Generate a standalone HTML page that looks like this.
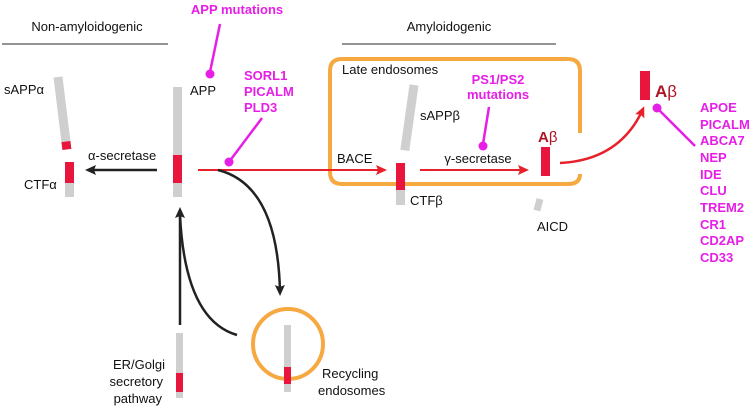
<!DOCTYPE html>
<html><head><meta charset="utf-8"><style>
html,body{margin:0;padding:0;background:#fff;}
svg{display:block;font-family:"Liberation Sans",Arial,sans-serif;}
.m{fill:#e61ee6;font-weight:bold;font-size:13px;}
.k{fill:#111;font-size:13px;}
</style></head><body>
<svg width="755" height="406" viewBox="0 0 755 406" xmlns="http://www.w3.org/2000/svg">
<defs>
<marker id="ab" markerWidth="11" markerHeight="10" refX="8" refY="5" orient="auto" markerUnits="userSpaceOnUse"><path d="M0,0 L11,5 L0,10 L2,5 Z" fill="#222"/></marker>
<marker id="ar" markerWidth="11" markerHeight="10" refX="8" refY="5" orient="auto" markerUnits="userSpaceOnUse"><path d="M0,0 L11,5 L0,10 L2,5 Z" fill="#e8202a"/></marker>
</defs>
<text x="87" y="31" class="k" text-anchor="middle">Non-amyloidogenic</text>
<line x1="2" y1="44" x2="168" y2="44" stroke="#555" stroke-width="1.3"/>
<text x="449" y="31" class="k" text-anchor="middle">Amyloidogenic</text>
<line x1="342" y1="44" x2="556" y2="44" stroke="#555" stroke-width="1.3"/>
<text x="237" y="14" class="m" text-anchor="middle">APP mutations</text>
<line x1="220" y1="24" x2="210" y2="72" stroke="#e61ee6" stroke-width="2.5"/>
<circle cx="210" cy="74" r="4.5" fill="#e61ee6"/>
<text x="190" y="95" class="k" font-size="12">APP</text>
<rect x="173" y="87" width="9" height="110" fill="#cfcfcf"/>
<rect x="173" y="155" width="9" height="28" fill="#e8163c"/>
<text x="4" y="94" class="k">sAPPα</text>
<g transform="translate(58,77) rotate(-7)"><rect x="-4.5" y="0" width="9" height="72" fill="#cfcfcf"/><rect x="-4.5" y="65" width="9" height="8" fill="#e8163c"/></g>
<rect x="65" y="162" width="9" height="35" fill="#cfcfcf"/>
<rect x="65" y="162" width="9" height="21" fill="#e8163c"/>
<text x="24" y="189" class="k">CTFα</text>
<text x="88" y="160" class="k">α-secretase</text>
<line x1="157" y1="170" x2="88" y2="170" stroke="#222" stroke-width="2.5" marker-end="url(#ab)"/>
<path d="M580,133 L580,71 Q580,59 568,59 L342,59 Q330,59 330,71 L330,172 Q330,184 342,184 L568,184 Q580,184 580,174" fill="none" stroke="#f7a941" stroke-width="4"/>
<line x1="198" y1="170" x2="384" y2="170" stroke="#e8202a" stroke-width="2" marker-end="url(#ar)"/>
<text x="244" y="80" class="m">SORL1</text>
<text x="244" y="96" class="m">PICALM</text>
<text x="244" y="112" class="m">PLD3</text>
<line x1="262" y1="118" x2="229" y2="162" stroke="#e61ee6" stroke-width="2.5"/>
<circle cx="229" cy="162" r="4.5" fill="#e61ee6"/>
<text x="342" y="74" class="k" font-size="12.5">Late endosomes</text>
<g transform="translate(414,85) rotate(8)"><rect x="-4.5" y="0" width="9" height="66" fill="#cfcfcf"/></g>
<text x="420" y="120" class="k">sAPPβ</text>
<text x="337" y="163" class="k">BACE</text>
<rect x="396" y="163" width="9" height="42" fill="#cfcfcf"/>
<rect x="396" y="163" width="9" height="27" fill="#e8163c"/>
<text x="410" y="205" class="k">CTFβ</text>
<text x="498" y="84" class="m" text-anchor="middle">PS1/PS2</text>
<text x="498" y="99" class="m" text-anchor="middle">mutations</text>
<line x1="489" y1="107" x2="483" y2="144" stroke="#e61ee6" stroke-width="2.5"/>
<circle cx="483" cy="146" r="4.5" fill="#e61ee6"/>
<text x="478" y="163" class="k" text-anchor="middle">γ-secretase</text>
<line x1="420" y1="170" x2="526" y2="170" stroke="#e8202a" stroke-width="2" marker-end="url(#ar)"/>
<rect x="541" y="147" width="9" height="29" fill="#e8163c"/>
<text x="538" y="142" font-size="15" font-weight="bold" fill="#b01525">A<tspan font-weight="normal">β</tspan></text>
<g transform="translate(540,199) rotate(15)"><rect x="-3.5" y="0" width="7" height="12" fill="#cfcfcf"/></g>
<text x="537" y="231" class="k">AICD</text>
<path d="M560,163 Q620,160 643,109" fill="none" stroke="#e8202a" stroke-width="2.5" marker-end="url(#ar)"/>
<rect x="640" y="71" width="10" height="29" fill="#e8163c"/>
<text x="655" y="97" font-size="17" font-weight="bold" fill="#b01525">A<tspan font-weight="normal">β</tspan></text>
<line x1="657" y1="108" x2="695" y2="146" stroke="#e61ee6" stroke-width="2.5"/>
<circle cx="657" cy="108" r="4.5" fill="#e61ee6"/>
<g class="m">
<text x="700" y="112">APOE</text>
<text x="700" y="129">PICALM</text>
<text x="700" y="145">ABCA7</text>
<text x="700" y="162">NEP</text>
<text x="700" y="179">IDE</text>
<text x="700" y="195">CLU</text>
<text x="700" y="212">TREM2</text>
<text x="700" y="229">CR1</text>
<text x="700" y="245">CD2AP</text>
<text x="700" y="262">CD33</text>
</g>
<path d="M218,170 Q278,185 280,293" fill="none" stroke="#222" stroke-width="2.5" marker-end="url(#ab)"/>
<line x1="180" y1="325" x2="180" y2="210" stroke="#222" stroke-width="2.5" marker-end="url(#ab)"/>
<path d="M237,335 Q185,320 180,215" fill="none" stroke="#222" stroke-width="2.5"/>
<rect x="176" y="333" width="7" height="65" fill="#cfcfcf"/>
<rect x="176" y="373" width="7" height="19" fill="#e8163c"/>
<text x="165" y="369" class="k" text-anchor="end">ER/Golgi</text>
<text x="163" y="386" class="k" text-anchor="end">secretory</text>
<text x="162" y="403" class="k" text-anchor="end">pathway</text>
<circle cx="288" cy="344" r="35" fill="none" stroke="#f7a941" stroke-width="4"/>
<rect x="284" y="325" width="7" height="67" fill="#cfcfcf"/>
<rect x="284" y="367" width="7" height="17" fill="#e8163c"/>
<text x="322" y="378" class="k">Recycling</text>
<text x="318" y="395" class="k">endosomes</text>
</svg>
</body></html>
